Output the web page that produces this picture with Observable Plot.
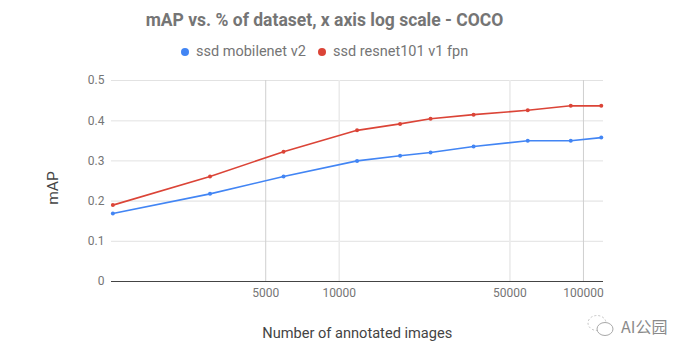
<!DOCTYPE html>
<html>
<head>
<meta charset="utf-8">
<script src="https://cdn.jsdelivr.net/npm/d3@7"></script>
<script src="https://cdn.jsdelivr.net/npm/@observablehq/plot@0.6"></script>
<style>
html,body{margin:0;padding:0;background:#fff;}
#wrap{position:relative;width:692px;height:357px;overflow:hidden;font-family:Roboto,sans-serif;}
#wrap svg.chart{position:absolute;left:0;top:0;}
.title{position:absolute;left:0;top:9px;width:649px;text-align:center;font-weight:700;font-size:17.5px;color:#757575;line-height:22px;white-space:nowrap;}
.legend{position:absolute;top:43px;font-size:14.5px;color:#757575;line-height:18px;white-space:nowrap;}
.dot{position:absolute;top:48px;width:8px;height:8px;border-radius:50%;}
.mark{position:absolute;left:621px;top:317px;font-family:"Noto Sans CJK SC",Roboto,sans-serif;font-size:16px;color:#8a8a8a;line-height:19px;white-space:nowrap;}
.icon{position:absolute;left:586px;top:314px;}
</style>
</head>
<body>
<div id="wrap"></div>
<script>
const images = [1183, 2957, 5914, 11829, 17743, 23657, 35486, 59143, 88715, 118287];
const mobilenet = [0.169, 0.218, 0.261, 0.300, 0.313, 0.321, 0.336, 0.350, 0.350, 0.358];
const resnet = [0.190, 0.261, 0.323, 0.376, 0.392, 0.405, 0.415, 0.426, 0.437, 0.437];
const seriesNames = ["ssd mobilenet v2", "ssd resnet101 v1 fpn"];
const seriesColors = ["#4285f4", "#db4437"];
const xTicks = [5000, 10000, 50000, 100000];
const yTicks = [0, 0.1, 0.2, 0.3, 0.4, 0.5];
const titleText = "mAP vs. % of dataset, x axis log scale - COCO";

const rows = (vals, name) => images.map((x, i) => ({x, y: vals[i], name}));
const data = [...rows(mobilenet, seriesNames[0]), ...rows(resnet, seriesNames[1])];

const chart = Plot.plot({
  width: 692,
  height: 357,
  marginLeft: 111,
  marginRight: 89,
  marginTop: 80,
  marginBottom: 76,
  style: {fontFamily: "Roboto, sans-serif", background: "transparent"},
  x: {type: "log", domain: [1168, 120800], label: null},
  y: {domain: [0, 0.5], label: null},
  color: {domain: seriesNames, range: seriesColors},
  marks: [
    Plot.ruleY(yTicks.filter(d => d > 0), {y: d => d, stroke: d => (Math.round(d * 10) % 2 ? "#e2e2e2" : "#ececec"), strokeWidth: d => (Math.round(d * 10) % 2 ? 1 : 1.6)}),
    Plot.ruleX(xTicks, {x: d => d, stroke: d => (d === 5000 || d === 100000 ? "#cfcfcf" : "#ebebeb"), strokeWidth: d => (d === 5000 || d === 100000 ? 1 : 1.6)}),
    Plot.ruleY([0], {stroke: "#444", strokeWidth: 1}),
    Plot.line(data, {x: "x", y: "y", stroke: "name", strokeWidth: 1.6}),
    Plot.dot(data, {x: "x", y: "y", fill: "name", r: 2}),
    Plot.axisX({ticks: xTicks, tickFormat: d => String(d), tickSize: 0, tickPadding: 7, fontSize: 12, color: "#757575", label: null}),
    Plot.axisY({ticks: yTicks, tickFormat: d => String(d), tickSize: 0, tickPadding: 7, fontSize: 12, color: "#757575", label: null}),
    Plot.text(["Number of annotated images"], {frameAnchor: "bottom", x: () => 11850, dy: 56, fontSize: 14.6, fill: "#444", lineAnchor: "bottom"}),
    Plot.text(["mAP"], {frameAnchor: "left", dx: -58, dy: 7, textAnchor: "middle", rotate: -90, fontSize: 15.5, fill: "#444"})
  ]
});
chart.classList.add("chart");

const wrap = document.getElementById("wrap");
wrap.appendChild(chart);

const add = (cls, text, css) => {
  const el = document.createElement("div");
  el.className = cls;
  el.textContent = text;
  Object.assign(el.style, css);
  wrap.appendChild(el);
};
add("title", titleText, {});
add("dot", "", {left: "181px", background: seriesColors[0]});
add("legend", seriesNames[0], {left: "196px"});
add("dot", "", {left: "318px", background: seriesColors[1]});
add("legend", seriesNames[1], {left: "333px"});
add("mark", "AI公园", {});

const icon = d3.create("svg").attr("class", "icon").attr("width", 30).attr("height", 24);
icon.append("ellipse").attr("cx", 11).attr("cy", 9).attr("rx", 9).attr("ry", 7.5)
  .attr("fill", "#fff").attr("stroke", "#c4c4c4").attr("stroke-dasharray", "2 2");
icon.append("ellipse").attr("cx", 19).attr("cy", 15).attr("rx", 8).attr("ry", 6.5)
  .attr("fill", "#fff").attr("stroke", "#a8a8a8");
wrap.appendChild(icon.node());
</script>
</body>
</html>
